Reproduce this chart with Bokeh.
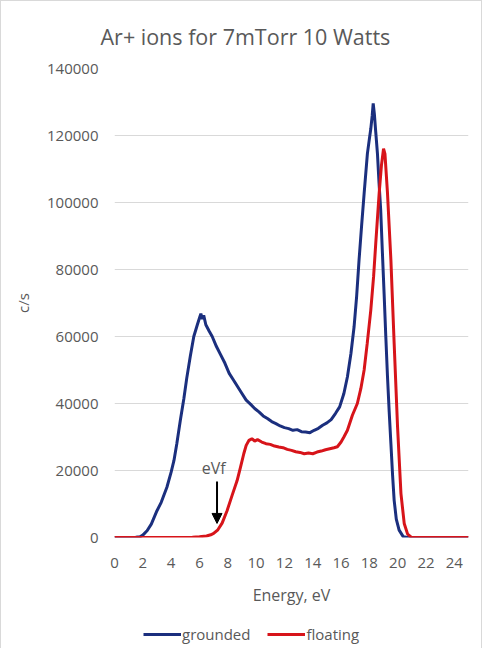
from bokeh.plotting import figure
from bokeh.layouts import column
from bokeh.models import (ColumnDataSource, Label, Legend, LegendItem, Arrow,
                          NormalHead, FixedTicker, Range1d, NumeralTickFormatter)
from bokeh.embed import file_html
from bokeh.resources import INLINE

# ---------------- data ----------------
title_text = "Ar+ ions for 7mTorr 10 Watts"
x_title = "Energy, eV"
y_title = "c/s"
series_names = ["grounded", "floating"]

grounded_e = [0, 1.0, 1.5, 1.8, 2.0, 2.3, 2.6, 3.0, 3.3, 3.7, 4.0, 4.2, 4.4, 4.65, 4.9,
              5.1, 5.35, 5.6, 5.85, 6.0, 6.1, 6.2, 6.3, 6.45, 6.7, 6.9, 7.2, 7.5, 7.8,
              8.1, 8.4, 8.7, 9.0, 9.3, 9.6, 9.9, 10.2, 10.5, 10.8, 11.1, 11.4, 11.7,
              12.0, 12.3, 12.6, 12.9, 13.2, 13.5, 13.8, 14.1, 14.4, 14.7, 15.0, 15.3,
              15.6, 15.9, 16.2, 16.45, 16.7, 16.92, 17.1, 17.27, 17.45, 17.63, 17.86,
              18.0, 18.1, 18.2, 18.27, 18.35, 18.45, 18.57, 18.68, 18.8, 18.92, 19.04,
              19.16, 19.28, 19.4, 19.52, 19.64, 19.75, 19.9, 20.1, 20.4, 20.7, 25]
grounded_cps = [0, 0, 50, 200, 700, 2000, 4000, 8000, 10500, 15000, 19500, 23000, 28000,
                35000, 41500, 47500, 54000, 60000, 63500, 65500, 66800, 65200, 66300,
                63500, 61500, 60000, 57000, 54500, 52000, 49000, 47000, 45000, 43000,
                41000, 39800, 38500, 37500, 36300, 35500, 34600, 34000, 33300, 32800,
                32500, 32000, 32200, 31600, 31500, 31300, 32000, 32600, 33500, 34200,
                35200, 37000, 39000, 43000, 48000, 55000, 62900, 72000, 82800, 93000,
                102700, 114600, 119000, 122000, 126000, 129600, 126500, 121000, 114600,
                106000, 97700, 85000, 72800, 60000, 48000, 37500, 28000, 18500, 11100,
                5500, 2200, 200, 0, 0]

floating_e = [0, 5.0, 5.5, 6.0, 6.5, 6.8, 7.0, 7.3, 7.6, 7.95, 8.3, 8.66, 8.9, 9.13, 9.3,
              9.5, 9.7, 9.9, 10.1, 10.4, 10.7, 11.0, 11.3, 11.6, 11.9, 12.2, 12.5, 12.8,
              13.1, 13.4, 13.7, 14.0, 14.3, 14.6, 14.9, 15.2, 15.5, 15.74, 16.0, 16.2,
              16.45, 16.8, 17.15, 17.4, 17.63, 17.85, 18.1, 18.3, 18.45, 18.69, 18.85,
              19.0, 19.1, 19.28, 19.52, 19.75, 19.99, 20.23, 20.46, 20.7, 20.95, 21.2, 25]
floating_cps = [0, 0, 80, 200, 450, 800, 1200, 2300, 4300, 8000, 12500, 17000, 21000,
                25000, 27500, 29000, 29500, 28800, 29200, 28500, 28000, 27800, 27300,
                27000, 26800, 26300, 26000, 25600, 25400, 25000, 25200, 25000, 25500,
                25800, 26200, 26500, 26800, 27100, 28500, 30000, 32000, 36500, 40000,
                44500, 50000, 58000, 67900, 78000, 87800, 102700, 111000, 116100, 114500,
                102700, 82800, 57900, 33000, 13100, 4200, 1000, 100, 0, 0]

x_ticks = [0, 2, 4, 6, 8, 10, 12, 14, 16, 18, 20, 22, 24]
y_ticks = [0, 20000, 40000, 60000, 80000, 100000, 120000, 140000]

annot_text = "eVf"
annot_x = 7.0
annot_y = 20600
arrow_x = 7.24
arrow_y_start = 16700
arrow_y_end = 4200

# ---------------- styles ----------------
FONT = "Open Sans"
GRAY = "#595959"
BLUE = "#1B2F7E"
RED = "#D7141A"
BORDER = "1px solid #d9d9d9"

p = figure(width=482, height=618, output_backend="svg", toolbar_location=None,
           x_range=Range1d(0, 25), y_range=Range1d(0, 140000),
           min_border_left=113, min_border_right=15, min_border_top=67,
           min_border_bottom=82)
p.styles = {"border-top": BORDER, "border-left": BORDER, "border-right": BORDER}
p.outline_line_color = None
p.background_fill_color = "white"
p.border_fill_color = "white"

p.title.text = title_text
p.title.align = "left"
p.title.offset = -14
p.title.standoff = 36
p.title.text_font = FONT
p.title.text_font_size = "21.5px"
p.title.text_font_style = "normal"
p.title.text_color = GRAY

src_g = ColumnDataSource(dict(x=grounded_e, y=grounded_cps))
src_f = ColumnDataSource(dict(x=floating_e, y=floating_cps))
r_g = p.line("x", "y", source=src_g, line_color=BLUE, line_width=3)
r_f = p.line("x", "y", source=src_f, line_color=RED, line_width=3)

for ax in (p.xaxis[0], p.yaxis[0]):
    ax.axis_line_color = None
    ax.major_tick_line_color = None
    ax.minor_tick_line_color = None
    ax.major_label_text_font = FONT
    ax.major_label_text_color = GRAY
    ax.major_label_text_font_size = "15px"
    ax.axis_label_text_font = FONT
    ax.axis_label_text_color = GRAY
    ax.axis_label_text_font_style = "normal"
p.xaxis.ticker = FixedTicker(ticks=x_ticks)
p.yaxis.ticker = FixedTicker(ticks=y_ticks)
p.yaxis.formatter = NumeralTickFormatter(format="0")
p.xaxis.major_label_standoff = 14
p.yaxis.major_label_standoff = 10
p.xaxis.axis_label = x_title
p.xaxis.axis_label_text_font_size = "16px"
p.xaxis.axis_label_standoff = 13
p.yaxis.axis_label = y_title
p.yaxis.axis_label_text_font_size = "15px"
p.yaxis.axis_label_standoff = 11

p.xgrid.grid_line_color = None
p.ygrid.grid_line_color = "#d9d9d9"
p.ygrid.grid_line_width = 1

# annotation
p.add_layout(Label(x=annot_x, y=annot_y, text=annot_text, text_font=FONT,
                   text_font_size="16px", text_color=GRAY,
                   text_align="center", text_baseline="middle"))
p.add_layout(Arrow(x_start=arrow_x, y_start=arrow_y_start, x_end=arrow_x, y_end=arrow_y_end,
                   line_color="black", line_width=2,
                   end=NormalHead(size=10, fill_color="black", line_color="black")))

# legend strip (separate small figure below the chart; its ranges keep the
# series out of view so only the legend shows)
lg = figure(width=482, height=30, output_backend="svg", toolbar_location=None,
            x_axis_type=None, y_axis_type=None, min_border=0,
            x_range=Range1d(30, 31), y_range=Range1d(-2, -1))
lg.styles = {"border-left": BORDER, "border-right": BORDER}
lg.outline_line_color = None
lg.xgrid.grid_line_color = None
lg.ygrid.grid_line_color = None
lg_g = lg.line("x", "y", source=src_g, line_color=BLUE, line_width=3)
lg_f = lg.line("x", "y", source=src_f, line_color=RED, line_width=3)
legend = Legend(items=[LegendItem(label=series_names[0], renderers=[lg_g]),
                       LegendItem(label=series_names[1], renderers=[lg_f])],
                orientation="horizontal", location=(29, 4),
                padding=0, margin=0, spacing=17, label_standoff=1,
                glyph_width=38, glyph_height=20,
                label_text_font=FONT, label_text_font_size="15px",
                label_text_color=GRAY, border_line_color=None,
                background_fill_alpha=0)
lg.add_layout(legend, "center")

layout = column(p, lg, spacing=0)
open("out.html", "w").write(file_html(layout, INLINE))
